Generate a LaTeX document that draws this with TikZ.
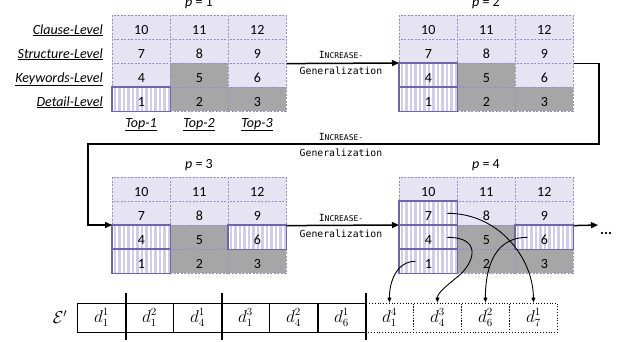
\documentclass[tikz,border=0pt]{standalone}
\usepackage{fontspec}
\setmainfont{Carlito}
\newfontfamily\monofont{DejaVu Sans Mono}
\usetikzlibrary{arrows.meta,calc}
\definecolor{lav}{RGB}{230,228,243}
\definecolor{dashc}{RGB}{150,140,200}
\definecolor{greyc}{RGB}{166,166,166}
\definecolor{selc}{RGB}{112,100,170}
\definecolor{stripec}{RGB}{208,204,234}
\newcommand\mygrid[3]{%
  \foreach \r in {0,...,3}{\foreach \c in {0,...,2}{%
    \pgfmathtruncatemacro\n{(3-\r)*3+\c+1}%
    \node[cell, #1-\n/.try] (#1c\n) at (#2+\c*58, #3+\r*24) {\n};
  }}}
\begin{document}
\begin{tikzpicture}[x=1pt,y=-1pt,
  cell/.style={draw=dashc, line width=0.6pt, dash pattern=on 2pt off 1.5pt,
    fill=lav, minimum width=58pt, minimum height=24pt, inner sep=0pt,
    anchor=north west, text height=14pt, text depth=0pt,
    font=\fontsize{14}{14}\selectfont},
  greycell/.style={fill=greyc},
  selcell/.style={fill=white, path picture={%
    \foreach \k in {1.5,6,...,57} \fill[stripec] ([xshift=\k pt]path picture bounding box.north west) rectangle ++(2.4,24);}},
  selborder/.style={draw=selc, line width=1.6pt},
  rowlab/.style={anchor=base east, inner sep=0pt, font=\fontsize{14}{14}\selectfont},
  toplab/.style={anchor=base, inner sep=0pt, font=\fontsize{14}{14}\selectfont},
  plab/.style={anchor=base, inner sep=0pt, font=\fontsize{14}{14}\selectfont},
  inclab/.style={anchor=base, inner sep=0pt, font=\monofont\fontsize{9.8}{10}\selectfont},
  conn/.style={line width=1.5pt, -{Triangle[length=7pt,width=6pt]}},
  cur/.style={line width=0.9pt, -{Triangle[length=5pt,width=4pt]}},
  seq/.style={draw, line width=0.8pt, minimum width=48pt, minimum height=29pt,
    inner sep=0pt, anchor=west, font=\fontsize{16}{16}\selectfont},
  seqd/.style={seq, dotted},
  sep/.style={line width=1.6pt},
  g1-5/.style=greycell, g1-2/.style=greycell, g1-3/.style=greycell, g1-1/.style=selcell,
  g2-5/.style=greycell, g2-2/.style=greycell, g2-3/.style=greycell, g2-1/.style=selcell, g2-4/.style=selcell,
  g3-5/.style=greycell, g3-2/.style=greycell, g3-3/.style=greycell, g3-1/.style=selcell, g3-4/.style=selcell, g3-6/.style=selcell,
  g4-5/.style=greycell, g4-2/.style=greycell, g4-3/.style=greycell, g4-1/.style=selcell, g4-4/.style=selcell, g4-6/.style=selcell, g4-7/.style=selcell
]
\useasboundingbox (0,0) rectangle (621,341);

% grids
\mygrid{g1}{112}{15}
\mygrid{g2}{399}{15}
\mygrid{g3}{112}{177}
\mygrid{g4}{399}{177}
\foreach \n in {1} \draw[selborder] (g1c\n.north west) rectangle (g1c\n.south east);
\foreach \n in {1,4} \draw[selborder] (g2c\n.north west) rectangle (g2c\n.south east);
\foreach \n in {1,4,6} \draw[selborder] (g3c\n.north west) rectangle (g3c\n.south east);
\foreach \n in {1,4,6,7} \draw[selborder] (g4c\n.north west) rectangle (g4c\n.south east);

% row labels
\node[rowlab] (rl1) at (103,34) {\underline{\textit{Clause-Level}}};
\node[rowlab] (rl2) at (103,58) {\underline{\textit{Structure-Level}}};
\node[rowlab] (rl3) at (103,82) {\underline{\textit{Keywords-Level}}};
\node[rowlab] (rl4) at (103,106) {\underline{\textit{Detail-Level}}};
\node[toplab] (t1) at (141,127) {\underline{\textit{Top-1}}};
\node[toplab] (t2) at (199,127) {\underline{\textit{Top-2}}};
\node[toplab] (t3) at (257,127) {\underline{\textit{Top-3}}};

% p labels
\node[plab] (p1) at (199,6) {\textit{p} = 1};
\node[plab] (p2) at (486,6) {\textit{p} = 2};
\node[plab] (p3) at (199,168) {\textit{p} = 3};
\node[plab] (p4) at (486,168) {\textit{p} = 4};

% connectors
\coordinate (k1) at (599,144);
\coordinate (k2) at (88,144);
\coordinate (k3) at (598,225);
\draw[conn] (g1c9.south east) -- (g2c4.north west);
\draw[conn] (g2c9.south east) -| (k1) -- (k2) |- (g3c4.north west);
\draw[conn] (g3c9.south east) -- (g4c4.north west);
\draw[conn] (g4c9.south east) -- (k3);
\node[anchor=base west, inner sep=0pt, font=\fontsize{15}{15}\selectfont\bfseries] (dots) at (600,234) {...};

\node[inclab] (i1) at (341,58.5) {I{\fontsize{8}{8}\selectfont NCREASE-}};
\node[inclab] (gn1) at (341,74.5) {Generalization};
\node[inclab] (i2) at (341,140) {I{\fontsize{8}{8}\selectfont NCREASE-}};
\node[inclab] (gn2) at (341,156) {Generalization};
\node[inclab] (i3) at (341,221) {I{\fontsize{8}{8}\selectfont NCREASE-}};
\node[inclab] (gn3) at (341,237) {Generalization};

% sequence
\node[font=\fontsize{17}{17}\selectfont] (eps) at (60,317) {$\mathcal{E}'$};
\node[seq] (e1) at (77,317.5) {$d_1^1$};
\node[seq] (e2) at (125,317.5) {$d_1^2$};
\node[seq] (e3) at (173,317.5) {$d_4^1$};
\node[seq] (e4) at (221,317.5) {$d_1^3$};
\node[seq] (e5) at (269,317.5) {$d_4^2$};
\node[seq] (e6) at (317,317.5) {$d_6^1$};
\node[seqd] (e7) at (365,317.5) {$d_1^4$};
\node[seqd] (e8) at (413,317.5) {$d_4^3$};
\node[seqd] (e9) at (461,317.5) {$d_6^2$};
\node[seqd] (e10) at (509,317.5) {$d_7^1$};
\draw[sep] ([yshift=10pt]e1.north east) -- ([yshift=-8pt]e1.south east);
\draw[sep] ([yshift=10pt]e3.north east) -- ([yshift=-8pt]e3.south east);
\draw[sep] ([yshift=10pt]e6.north east) -- ([yshift=-8pt]e6.south east);
\draw[line width=1.4pt] (e5.north east) -- (e5.south east);

% curved arrows
\draw[cur] ([xshift=19pt]g4c7.center) .. controls +(53,0) and +(0,-43) .. (e10.north);
\draw[cur] ([xshift=19pt]g4c4.center) .. controls +(35,0) and +(15,-13) .. ++(12,38)
   .. controls +(-12,10) and +(0,-10) .. (e8.north);
\draw[cur] ([xshift=-13pt]g4c1.center) .. controls +(-18,0) and +(0,-22) .. (e7.north);
\draw[cur] ([xshift=-17pt]g4c6.center) .. controls +(-30,0) and +(0,-40) .. (e9.north);
\end{tikzpicture}
\end{document}
